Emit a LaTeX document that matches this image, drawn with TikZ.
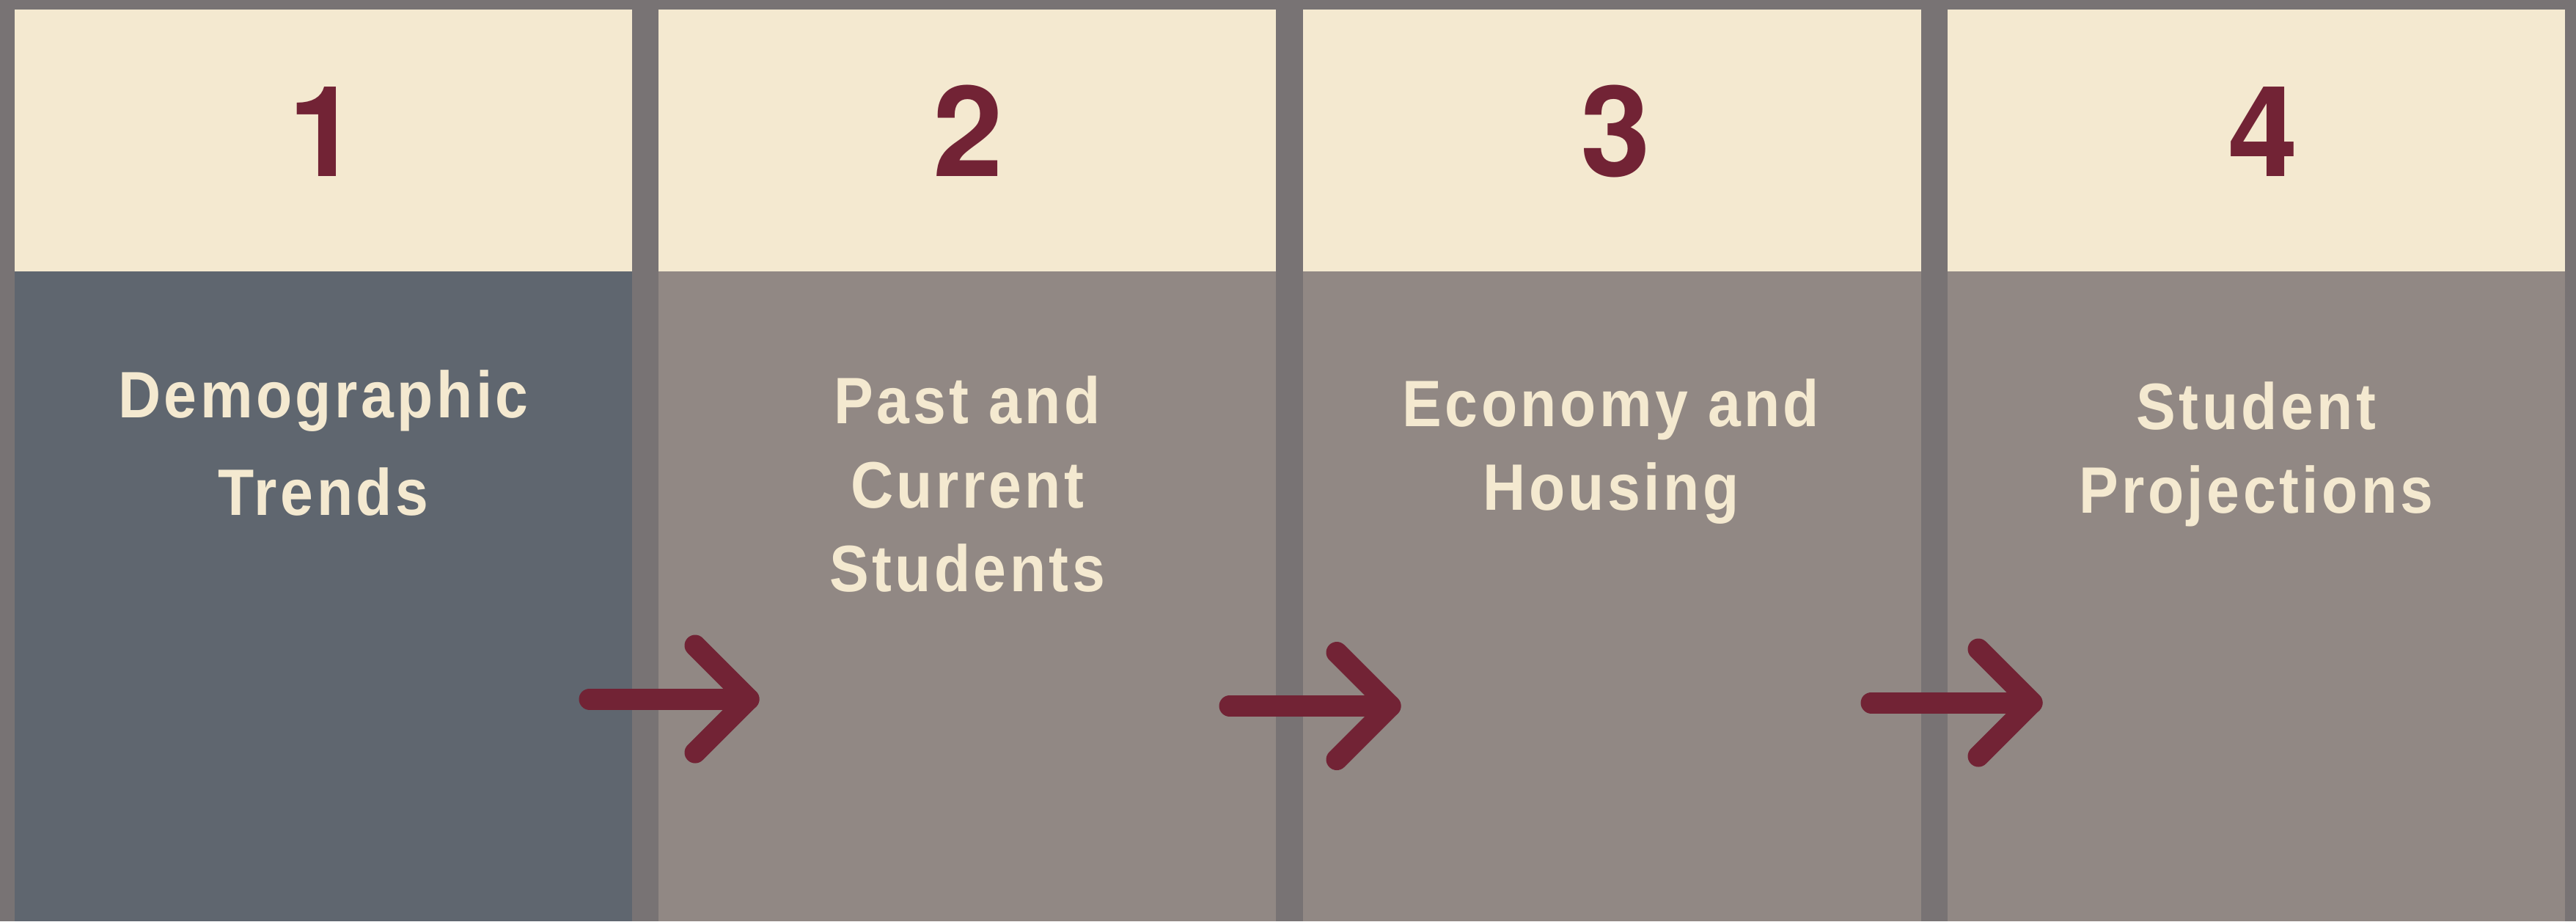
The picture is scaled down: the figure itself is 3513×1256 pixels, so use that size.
\documentclass[tikz,border=0pt]{standalone}
\usepackage{fontspec}
\setmainfont{Liberation Sans}
\newfontfamily\labelfont[LetterSpace=5,FakeStretch=0.9]{Liberation Sans}
\newfontfamily\numfont{TeX Gyre Heros}
\definecolor{framegray}{HTML}{787374}
\definecolor{cream}{HTML}{F4E9D0}
\definecolor{slate}{HTML}{5F666F}
\definecolor{taupe}{HTML}{918884}
\definecolor{maroon}{HTML}{722335}
\tikzset{
  numlabel/.style={anchor=base, inner sep=0pt, text=maroon, font=\numfont\fontsize{34.4pt}{40pt}\selectfont\bfseries},
  steplabel/.style={anchor=base, inner sep=0pt, text=cream, font=\labelfont\fontsize{17.9pt}{22pt}\selectfont\bfseries},
  flowarrow/.style={draw=maroon, line width=5.8pt, line cap=round, line join=round}
}
\begin{document}
\begin{tikzpicture}[x=0.2pt,y=-0.2pt]
\fill[framegray] (0,0) rectangle (3513,1256);
\useasboundingbox (0,0) rectangle (3513,1256);
% column panels
\fill[slate] (20,370) rectangle (862,1256);
\fill[taupe] (898,370) rectangle (1740,1256);
\fill[taupe] (1777,370) rectangle (2620,1256);
\fill[taupe] (2656,370) rectangle (3498,1256);
% headers
\fill[cream] (20,13) rectangle (862,370);
\fill[cream] (898,13) rectangle (1740,370);
\fill[cream] (1777,13) rectangle (2620,370);
\fill[cream] (2656,13) rectangle (3498,370);
% numbers
\node[numlabel] (n1) at (441,240) {1};
\node[numlabel] (n2) at (1320,240) {2};
\node[numlabel] (n3) at (2203,240) {3};
\node[numlabel] (n4) at (3086,240) {4};
% step titles
\node[steplabel] (t1a) at (441,569) {Demographic};
\node[steplabel] (t1b) at (441,702) {Trends};
\node[steplabel] (t2a) at (1319,577) {Past and};
\node[steplabel] (t2b) at (1319,692) {Current};
\node[steplabel] (t2c) at (1319,806) {Students};
\node[steplabel] (t3a) at (2197,581) {Economy and};
\node[steplabel] (t3b) at (2197,695) {Housing};
\node[steplabel] (t4a) at (3077,585) {Student};
\node[steplabel] (t4b) at (3077,699) {Projections};
% arrows
\coordinate (a1s) at (804,953);
\coordinate (a1t) at (1021,953);
\coordinate (a1u) at (948,880);
\coordinate (a1d) at (948,1026);
\coordinate (a2s) at (1677,962.5);
\coordinate (a2t) at (1896,962.5);
\coordinate (a2u) at (1823,889.5);
\coordinate (a2d) at (1823,1035.5);
\coordinate (a3s) at (2552,958);
\coordinate (a3t) at (2771,958);
\coordinate (a3u) at (2698,885);
\coordinate (a3d) at (2698,1031);
\draw[flowarrow] (a1s) -- (a1t);
\draw[flowarrow] (a1u) -- (a1t) -- (a1d);
\draw[flowarrow] (a2s) -- (a2t);
\draw[flowarrow] (a2u) -- (a2t) -- (a2d);
\draw[flowarrow] (a3s) -- (a3t);
\draw[flowarrow] (a3u) -- (a3t) -- (a3d);
\end{tikzpicture}
\end{document}
